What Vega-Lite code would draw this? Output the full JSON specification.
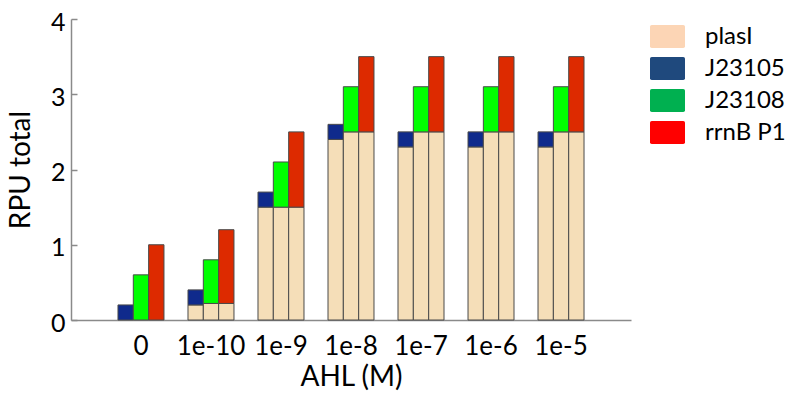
{
  "$schema": "https://vega.github.io/schema/vega-lite/v6.json",
  "width": 560,
  "height": 301,
  "autosize": {"type": "none"},
  "padding": {"left": 71, "top": 19, "right": 157, "bottom": 79},
  "config": {
    "view": {"stroke": null},
    "font": "Lato",
    "axis": {
      "domainColor": "#8a8a8a",
      "domainWidth": 1.5,
      "tickColor": "#8a8a8a",
      "tickWidth": 1.5,
      "labelColor": "#000000",
      "titleColor": "#000000",
      "labelFontSize": 25,
      "titleFontSize": 28,
      "titleFontWeight": "normal",
      "grid": false
    },
    "legend": {
      "labelFontSize": 24,
      "labelColor": "#000000"
    }
  },
  "data": {
    "values": [
      {"ahl": "0", "bar": "J23105", "part": "J23105", "tier": 2, "value": 0.2},
      {"ahl": "0", "bar": "J23108", "part": "J23108", "tier": 2, "value": 0.6},
      {"ahl": "0", "bar": "rrnB P1", "part": "rrnB P1", "tier": 2, "value": 1.0},
      {"ahl": "1e-10", "bar": "J23105", "part": "plasI", "tier": 1, "value": 0.2},
      {"ahl": "1e-10", "bar": "J23105", "part": "J23105", "tier": 2, "value": 0.2},
      {"ahl": "1e-10", "bar": "J23108", "part": "plasI", "tier": 1, "value": 0.22},
      {"ahl": "1e-10", "bar": "J23108", "part": "J23108", "tier": 2, "value": 0.58},
      {"ahl": "1e-10", "bar": "rrnB P1", "part": "plasI", "tier": 1, "value": 0.22},
      {"ahl": "1e-10", "bar": "rrnB P1", "part": "rrnB P1", "tier": 2, "value": 0.98},
      {"ahl": "1e-9", "bar": "J23105", "part": "plasI", "tier": 1, "value": 1.5},
      {"ahl": "1e-9", "bar": "J23105", "part": "J23105", "tier": 2, "value": 0.2},
      {"ahl": "1e-9", "bar": "J23108", "part": "plasI", "tier": 1, "value": 1.5},
      {"ahl": "1e-9", "bar": "J23108", "part": "J23108", "tier": 2, "value": 0.6},
      {"ahl": "1e-9", "bar": "rrnB P1", "part": "plasI", "tier": 1, "value": 1.5},
      {"ahl": "1e-9", "bar": "rrnB P1", "part": "rrnB P1", "tier": 2, "value": 1.0},
      {"ahl": "1e-8", "bar": "J23105", "part": "plasI", "tier": 1, "value": 2.4},
      {"ahl": "1e-8", "bar": "J23105", "part": "J23105", "tier": 2, "value": 0.2},
      {"ahl": "1e-8", "bar": "J23108", "part": "plasI", "tier": 1, "value": 2.5},
      {"ahl": "1e-8", "bar": "J23108", "part": "J23108", "tier": 2, "value": 0.6},
      {"ahl": "1e-8", "bar": "rrnB P1", "part": "plasI", "tier": 1, "value": 2.5},
      {"ahl": "1e-8", "bar": "rrnB P1", "part": "rrnB P1", "tier": 2, "value": 1.0},
      {"ahl": "1e-7", "bar": "J23105", "part": "plasI", "tier": 1, "value": 2.3},
      {"ahl": "1e-7", "bar": "J23105", "part": "J23105", "tier": 2, "value": 0.2},
      {"ahl": "1e-7", "bar": "J23108", "part": "plasI", "tier": 1, "value": 2.5},
      {"ahl": "1e-7", "bar": "J23108", "part": "J23108", "tier": 2, "value": 0.6},
      {"ahl": "1e-7", "bar": "rrnB P1", "part": "plasI", "tier": 1, "value": 2.5},
      {"ahl": "1e-7", "bar": "rrnB P1", "part": "rrnB P1", "tier": 2, "value": 1.0},
      {"ahl": "1e-6", "bar": "J23105", "part": "plasI", "tier": 1, "value": 2.3},
      {"ahl": "1e-6", "bar": "J23105", "part": "J23105", "tier": 2, "value": 0.2},
      {"ahl": "1e-6", "bar": "J23108", "part": "plasI", "tier": 1, "value": 2.5},
      {"ahl": "1e-6", "bar": "J23108", "part": "J23108", "tier": 2, "value": 0.6},
      {"ahl": "1e-6", "bar": "rrnB P1", "part": "plasI", "tier": 1, "value": 2.5},
      {"ahl": "1e-6", "bar": "rrnB P1", "part": "rrnB P1", "tier": 2, "value": 1.0},
      {"ahl": "1e-5", "bar": "J23105", "part": "plasI", "tier": 1, "value": 2.3},
      {"ahl": "1e-5", "bar": "J23105", "part": "J23105", "tier": 2, "value": 0.2},
      {"ahl": "1e-5", "bar": "J23108", "part": "plasI", "tier": 1, "value": 2.5},
      {"ahl": "1e-5", "bar": "J23108", "part": "J23108", "tier": 2, "value": 0.6},
      {"ahl": "1e-5", "bar": "rrnB P1", "part": "plasI", "tier": 1, "value": 2.5},
      {"ahl": "1e-5", "bar": "rrnB P1", "part": "rrnB P1", "tier": 2, "value": 1.0}
    ]
  },
  "layer": [
    {
      "mark": {"type": "bar", "stroke": "#4a4a4a", "strokeWidth": 1},
      "encoding": {
        "x": {
          "field": "ahl",
          "type": "nominal",
          "sort": ["0", "1e-10", "1e-9", "1e-8", "1e-7", "1e-6", "1e-5"],
          "scale": {"paddingInner": 0.343, "paddingOuter": 0.671},
          "axis": {"title": "AHL (M)", "ticks": false, "labelAngle": 0, "labelPadding": 13, "labelFontSize": 26, "titlePadding": 4}
        },
        "xOffset": {
          "field": "bar",
          "type": "nominal",
          "sort": ["J23105", "J23108", "rrnB P1"],
          "scale": {"paddingInner": 0, "paddingOuter": 0}
        },
        "y": {
          "field": "value",
          "type": "quantitative",
          "stack": "zero",
          "scale": {"domain": [0, 4]},
          "axis": {"title": "RPU total", "values": [0, 1, 2, 3, 4], "format": "d", "tickSize": -6, "labelPadding": 12, "labelOffset": 3, "titlePadding": 15}
        },
        "order": {"field": "tier", "type": "quantitative"},
        "color": {
          "field": "part",
          "type": "nominal",
          "scale": {
            "domain": ["plasI", "J23105", "J23108", "rrnB P1"],
            "range": ["#F5DEB8", "#0F2A8C", "#00FF00", "#DD2A00"]
          },
          "legend": null
        }
      }
    },
    {
      "mark": {"type": "square", "opacity": 0},
      "encoding": {
        "color": {
          "field": "part",
          "type": "nominal",
          "scale": {
            "domain": ["plasI", "J23105", "J23108", "rrnB P1"],
            "range": ["#FCD5B5", "#1F497D", "#00B050", "#FF0000"]
          },
          "legend": {
            "title": null,
            "orient": "none",
            "legendX": 579,
            "legendY": 0,
            "symbolType": "M-0.9,-0.657H0.9Q1,-0.657 1,-0.557V0.557Q1,0.657 0.9,0.657H-0.9Q-1,0.657 -1,0.557V-0.557Q-1,-0.657 -0.9,-0.657Z",
            "symbolSize": 1225,
            "symbolOpacity": 1,
            "symbolStrokeWidth": 0,
            "labelOffset": 20,
            "rowPadding": 2
          }
        }
      }
    }
  ],
  "resolve": {"scale": {"color": "independent"}}
}
